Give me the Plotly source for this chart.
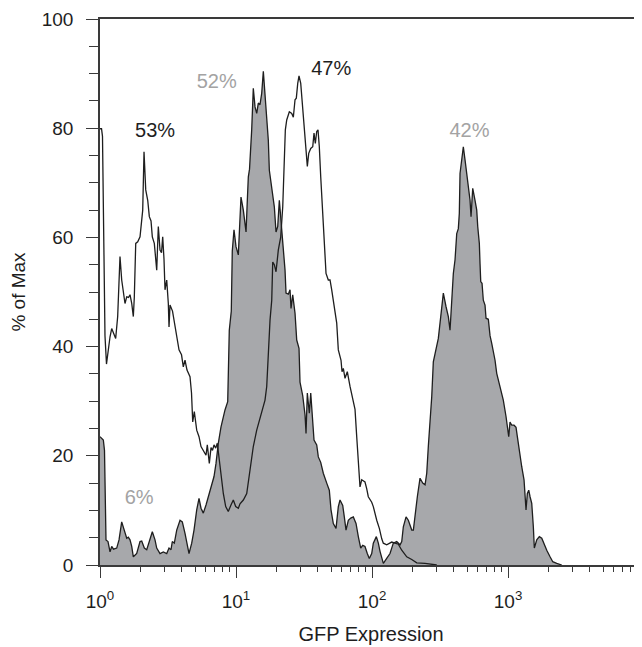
import plotly.graph_objects as go

# ---- data (GFP expression vs % of max) ----
open_gfp = [1.00, 1.026, 1.043, 1.061, 1.088, 1.116, 1.151, 1.185, 1.219, 1.257, 1.304, 1.349, 1.380, 1.403,
            1.444, 1.484, 1.527, 1.572, 1.620, 1.662, 1.711, 1.758, 1.788, 1.831, 1.894, 1.969, 2.003, 2.061,
            2.107, 2.169, 2.243, 2.305, 2.372, 2.425, 2.508, 2.612, 2.684, 2.762, 2.833, 2.891, 2.955, 3.006,
            3.094, 3.179, 3.217, 3.272, 3.413, 3.561, 3.665, 3.810, 3.975, 4.097, 4.217, 4.362, 4.590, 4.708,
            4.805, 4.936, 5.141, 5.345, 5.529, 5.768, 6.018, 6.152, 6.363, 6.549, 6.717, 6.890, 7.091, 7.286,
            7.499, 7.757, 8.065, 8.399, 8.774, 9.184, 9.551, 9.947, 10.40, 10.70, 11.32, 11.99, 12.67, 13.40,
            14.20, 15.45, 16.34, 16.82, 17.28, 17.79, 18.31, 18.62, 19.13, 19.69, 20.47, 21.32, 22.06, 22.54,
            23.05, 23.60, 24.66, 25.68, 26.39, 27.16, 27.76, 28.43, 29.06, 29.91, 30.57, 31.25, 32.17, 33.45,
            34.25, 35.43, 36.65, 37.46, 38.29, 39.21, 40.08, 40.97, 41.96, 42.89, 44.37, 45.90, 47.72, 49.11,
            50.54, 51.93, 53.45, 55.01, 56.52, 59.17, 60.18, 61.52, 63.31, 65.82, 68.90, 72.86, 74.99, 77.18,
            79.30, 81.60, 83.99, 88.78, 91.37, 93.89, 99.47, 102.2, 108.3, 113.2, 117.9, 121.1, 128.2, 139.6,
            147.6, 156.1, 165.4, 180.0, 195.9, 213.2, 245.4, 299.1]
open_pct = [79.9, 79.9, 78.5, 60.0, 42.0, 36.8, 39.7, 41.8, 43.3, 42.5, 41.5, 45.5, 51.6, 56.5,
            52.2, 49.8, 47.9, 49.1, 49.0, 49.5, 47.9, 45.5, 49.1, 58.9, 59.2, 60.1, 62.0, 65.0,
            75.7, 68.7, 66.8, 63.8, 63.0, 60.1, 58.9, 54.0, 62.0, 57.7, 57.2, 60.1, 56.0, 50.4,
            52.2, 47.9, 43.6, 47.6, 46.5, 43.6, 41.2, 39.4, 38.5, 36.3, 37.5, 35.7, 34.5, 31.5,
            26.2, 28.1, 24.7, 23.5, 21.7, 21.0, 20.1, 22.0, 18.6, 21.5, 21.0, 22.0, 21.4, 22.3,
            19.8, 16.2, 13.1, 10.7, 9.8, 11.0, 11.9, 10.7, 10.4, 11.2, 11.9, 13.1, 17.4, 21.7,
            24.7, 28.1, 30.2, 32.7, 38.8, 44.9, 48.5, 55.5, 55.0, 53.7, 57.7, 60.1, 65.6, 72.3,
            79.7, 81.5, 83.0, 82.7, 82.0, 85.2, 85.5, 88.2, 89.6, 88.2, 85.2, 80.9, 77.8, 73.0,
            75.4, 76.3, 76.6, 79.1, 77.2, 79.4, 79.7, 76.6, 71.1, 66.2, 60.1, 53.4, 52.2, 52.2,
            50.4, 48.5, 46.7, 44.3, 39.4, 37.5, 35.4, 36.0, 34.2, 35.4, 32.7, 29.6, 28.5, 23.5,
            18.6, 14.3, 15.6, 15.2, 14.0, 12.5, 11.5, 10.7, 8.2, 6.7, 4.8, 4.0, 3.7, 4.2,
            4.0, 3.8, 2.7, 1.5, 1.0, 0.4, 0.3, 0.0]

filled_gfp = [1.00, 1.026, 1.058, 1.079, 1.098, 1.107, 1.145, 1.185, 1.219, 1.257, 1.327, 1.380, 1.444, 1.484,
              1.527, 1.572, 1.615, 1.662, 1.711, 1.758, 1.862, 1.969, 2.026, 2.118, 2.206, 2.332, 2.425, 2.538,
              2.612, 2.762, 2.921, 3.094, 3.217, 3.328, 3.402, 3.519, 3.665, 3.875, 4.029, 4.217, 4.340, 4.513,
              4.724, 4.911, 5.141, 5.345, 5.529, 5.749, 6.018, 6.256, 6.549, 6.890, 7.128, 7.411, 7.757, 7.984,
              8.300, 8.689, 8.774, 8.924, 9.231, 9.389, 9.665, 10.00, 10.40, 10.70, 10.88, 11.32, 11.65, 11.85,
              12.11, 12.32, 12.57, 12.82, 13.04, 13.40, 13.80, 14.20, 14.59, 15.01, 15.45, 15.88, 16.34, 16.82,
              17.28, 17.58, 18.09, 18.62, 19.13, 19.69, 20.26, 20.82, 21.32, 21.80, 22.28, 22.93, 23.32, 24.25,
              24.95, 25.38, 26.12, 27.16, 27.95, 29.06, 29.55, 30.94, 32.17, 32.72, 33.45, 34.60, 35.43, 36.40,
              37.46, 39.21, 40.29, 41.96, 43.84, 46.45, 48.53, 49.95, 51.93, 54.36, 56.52, 58.17, 60.90, 62.56,
              64.39, 66.95, 69.72, 72.86, 76.27, 79.30, 82.58, 85.42, 88.78, 92.31, 95.51, 99.47, 102.2, 107.6,
              111.3, 114.5, 121.1, 128.2, 135.6, 143.4, 151.9, 160.7, 165.4, 169.9, 177.9, 184.9, 195.9, 201.3,
              207.2, 215.4, 225.4, 236.0, 245.4, 252.5, 259.4, 267.0, 274.8, 282.3, 299.1, 307.3, 320.1, 334.5,
              350.1, 364.0, 374.6, 385.5, 396.1, 407.7, 419.6, 431.1, 438.4, 443.7, 456.7, 469.2, 482.9, 497.0,
              510.6, 525.5, 534.5, 550.1, 571.9, 588.7, 598.7, 615.2, 622.5, 629.9, 643.9, 658.2, 677.4, 689.0,
              716.4, 737.3, 758.8, 802.4, 825.8, 873.2, 923.1, 966.5, 988.0, 1012, 1034, 1065, 1107, 1145,
              1171, 1211, 1261, 1311, 1340, 1356, 1387, 1420, 1452, 1494, 1535, 1561, 1626, 1699,
              1770, 1840, 1926, 2037, 2132, 2281, 2483]
filled_pct = [23.5, 23.2, 22.9, 21.0, 12.0, 4.6, 4.3, 2.4, 3.4, 2.9, 3.1, 4.6, 7.9, 6.8,
              6.1, 4.9, 5.1, 4.6, 3.4, 1.5, 2.1, 4.3, 4.4, 3.1, 2.8, 4.6, 6.1, 4.6,
              3.1, 2.1, 2.4, 2.1, 3.1, 2.8, 4.3, 4.0, 6.4, 8.2, 7.9, 5.8, 4.0, 2.1,
              4.0, 6.4, 10.1, 12.2, 10.4, 9.5, 11.0, 12.5, 14.7, 16.2, 18.6, 22.3, 25.3, 26.9,
              28.4, 29.9, 33.9, 43.0, 46.5, 57.5, 61.4, 58.3, 56.8, 63.8, 67.4, 65.0, 62.5, 61.0,
              66.8, 71.1, 72.5, 76.0, 79.7, 87.3, 83.9, 82.7, 84.6, 84.3, 86.4, 90.4, 86.4, 82.1,
              77.8, 72.3, 69.9, 68.1, 65.6, 61.0, 62.0, 66.8, 63.8, 61.0, 57.7, 54.0, 49.8, 49.6,
              50.4, 47.0, 49.5, 46.1, 41.2, 39.7, 33.5, 31.0, 27.5, 24.1, 31.5, 27.8, 31.5, 26.6,
              22.9, 22.0, 19.8, 18.8, 16.8, 15.0, 13.7, 10.1, 7.6, 6.7, 10.7, 11.9, 10.9, 8.8,
              6.4, 8.2, 8.6, 8.8, 7.6, 5.2, 3.1, 3.6, 3.4, 2.1, 1.2, 2.1, 4.0, 5.2,
              4.0, 2.5, 0.3, 1.2, 2.1, 4.0, 4.3, 3.7, 4.3, 7.0, 8.8, 8.2, 6.4, 6.4,
              9.5, 12.5, 15.9, 15.0, 14.7, 16.8, 21.7, 26.0, 30.8, 37.2, 40.0, 41.5, 45.5, 49.8,
              47.3, 45.5, 43.0, 47.9, 53.4, 55.9, 60.7, 61.6, 64.4, 71.7, 74.2, 76.6, 74.2, 71.7,
              68.7, 66.8, 63.8, 69.0, 66.8, 65.0, 62.0, 58.9, 55.2, 51.9, 51.6, 48.5, 47.6, 45.2,
              45.0, 42.0, 40.6, 37.5, 35.1, 32.7, 30.2, 27.2, 25.0, 23.5, 26.2, 25.6, 25.6, 25.2,
              23.5, 20.5, 18.0, 15.6, 12.5, 10.1, 13.1, 13.7, 12.5, 11.3, 7.0, 3.1, 4.6, 5.2,
              4.9, 3.7, 2.7, 1.5, 0.6, 0.3, 0.0]

label_text = ["53%", "52%", "47%", "42%", "6%"]
label_gfp = [2.54, 7.21, 50.1, 521, 1.94]
label_pct = [79.3, 88.3, 90.7, 79.3, 12.1]
label_color = ["#1e1e1e", "#a3a3a3", "#1e1e1e", "#a3a3a3", "#a3a3a3"]

x_tickvals = [1, 10, 100, 1000]
x_ticktext = ["10<sup>0</sup>", "10<sup>1</sup>", "10<sup>2</sup>", "10<sup>3</sup>"]
x_minor = [m * d for d in (1, 10, 100, 1000) for m in range(2, 10)]

FONT = "Liberation Sans, Arial, Helvetica, sans-serif"
INK = "#1e1e1e"
AX = "#3a3a3a"

fig = go.Figure()
fig.add_trace(go.Scatter(x=filled_gfp, y=filled_pct, mode="lines", fill="tozeroy",
                         fillcolor="#a7a8ab", line=dict(color=INK, width=1.3),
                         hoverinfo="skip", showlegend=False))
fig.add_trace(go.Scatter(x=open_gfp, y=open_pct, mode="lines",
                         line=dict(color=INK, width=1.3),
                         hoverinfo="skip", showlegend=False))
fig.add_trace(go.Scatter(x=label_gfp, y=label_pct, mode="text", text=label_text,
                         textposition="middle center",
                         textfont=dict(family=FONT, size=20, color=label_color),
                         hoverinfo="skip", showlegend=False, cliponaxis=False))

# the page body adds an 8px margin, so the figure is sized to fit the 642x647 window
fig.update_layout(
    width=634, height=639,
    margin=dict(l=92, r=0, t=11, b=82, autoexpand=False),
    paper_bgcolor="white", plot_bgcolor="white",
    font=dict(family=FONT, size=19, color=INK),
    xaxis=dict(type="log", range=[0, 3.985], tickmode="array",
               tickvals=x_tickvals, ticktext=x_ticktext,
               ticks="outside", ticklen=11, tickwidth=1.3, tickcolor=AX,
               minor=dict(tickmode="array", tickvals=x_minor, ticks="outside",
                          ticklen=5, tickwidth=1.2, tickcolor=AX, showgrid=False),
               showline=True, linecolor=AX, linewidth=1.5, mirror=True,
               showgrid=False, zeroline=False, ticklabelstandoff=7,
               title=dict(text="GFP Expression", font=dict(size=20), standoff=16),
               automargin=False),
    yaxis=dict(range=[0, 100], tickmode="array", tickvals=[0, 20, 40, 60, 80, 100],
               ticks="outside", ticklen=12, tickwidth=1.3, tickcolor=AX,
               minor=dict(dtick=5, ticks="outside", ticklen=9, tickwidth=1.2,
                          tickcolor=AX, showgrid=False),
               showline=True, linecolor=AX, linewidth=1.5,
               showgrid=False, zeroline=False, ticklabelstandoff=9,
               title=dict(text="% of Max", font=dict(size=19), standoff=13),
               automargin=False),
)

fig.write_html("out.html")
